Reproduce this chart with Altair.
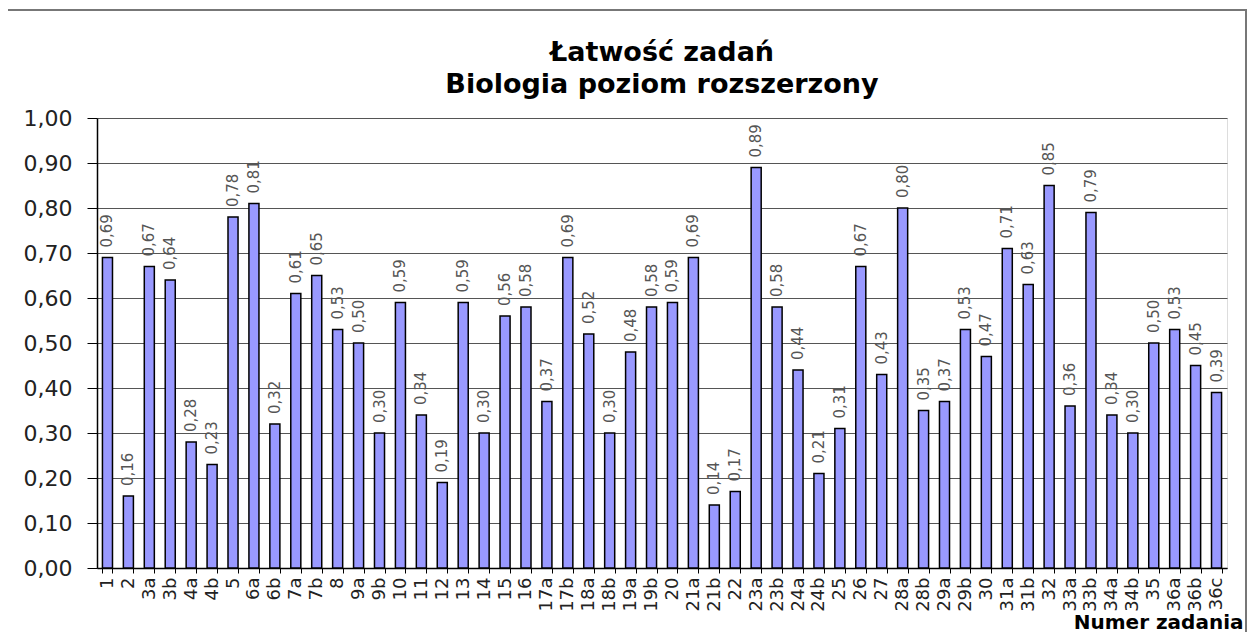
import altair as alt
import pandas as pd

tasks = ["1", "2", "3a", "3b", "4a", "4b", "5", "6a", "6b", "7a", "7b", "8", "9a", "9b",
         "10", "11", "12", "13", "14", "15", "16", "17a", "17b", "18a", "18b", "19a", "19b",
         "20", "21a", "21b", "22", "23a", "23b", "24a", "24b", "25", "26", "27", "28a", "28b",
         "29a", "29b", "30", "31a", "31b", "32", "33a", "33b", "34a", "34b", "35", "36a",
         "36b", "36c"]
values = [0.69, 0.16, 0.67, 0.64, 0.28, 0.23, 0.78, 0.81, 0.32, 0.61, 0.65, 0.53, 0.50, 0.30,
          0.59, 0.34, 0.19, 0.59, 0.30, 0.56, 0.58, 0.37, 0.69, 0.52, 0.30, 0.48, 0.58,
          0.59, 0.69, 0.14, 0.17, 0.89, 0.58, 0.44, 0.21, 0.31, 0.67, 0.43, 0.80, 0.35,
          0.37, 0.53, 0.47, 0.71, 0.63, 0.85, 0.36, 0.79, 0.34, 0.30, 0.50, 0.53,
          0.45, 0.39]
y_ticks = [0.0, 0.1, 0.2, 0.3, 0.4, 0.5, 0.6, 0.7, 0.8, 0.9, 1.0]

df = pd.DataFrame({"task": tasks, "value": values})
df["label"] = [f"{v:.2f}".replace(".", ",") for v in values]

FONT = "DejaVu Sans"

x = alt.X(
    "task:N", sort=tasks,
    scale=alt.Scale(paddingInner=0.52, paddingOuter=0.26),
    axis=alt.Axis(
        title="Numer zadania", titleFont=FONT, titleFontSize=20, titleFontWeight="bold",
        titleColor="black", titleX=1146, titleY=60, titleAlign="right",
        titleBaseline="alphabetic", titleAnchor="end",
        labelAngle=-90, labelFont=FONT, labelFontSize=18, labelColor="#222",
        labelPadding=4, labelOverlap=False,
        tickBand="extent", tickSize=5, tickColor="black",
        domainColor="black", domainWidth=1.5, grid=False,
    ),
)
y = alt.Y(
    "value:Q",
    scale=alt.Scale(domain=[0, 1], nice=False),
    axis=alt.Axis(
        title=None, values=y_ticks,
        labelExpr="replace(format(datum.value, '.2f'), '.', ',')",
        labelFont=FONT, labelFontSize=22, labelColor="#222", labelPadding=15,
        tickSize=10, tickColor="black", domainColor="black", domainWidth=1.5,
        grid=True, gridColor="#555", gridWidth=1.2,
    ),
)

bars = alt.Chart(df).mark_bar(color="#9999FF", stroke="black", strokeWidth=1.5).encode(x=x, y=y)

texts = alt.Chart(df).mark_text(
    angle=270, align="left", baseline="middle", dx=10,
    font=FONT, fontSize=15, color="#555",
).encode(x=alt.X("task:N", sort=tasks), y="value:Q", text="label:N")

border = alt.Chart(pd.DataFrame({"k": [0]})).mark_rect(
    fillOpacity=0, stroke="#777", strokeWidth=2
).encode(
    x=alt.value(-90), x2=alt.value(1149), y=alt.value(-108), y2=alt.value(540)
)

chart = alt.layer(bars, texts, border).properties(
    width=1130, height=450,
    title=alt.TitleParams(
        text=["Łatwość zadań", "Biologia poziom rozszerzony"],
        font=FONT, fontSize=27, fontWeight="bold", color="black",
        anchor="middle", lineHeight=32, baseline="bottom", offset=20, dy=137,
    ),
    autosize=alt.AutoSizeParams(type="none"),
    padding={"left": 89, "top": 110, "right": 21, "bottom": 64},
).configure_view(stroke="#888", strokeWidth=1.5).configure(background="white")

chart.save("out.html", embed_options={"renderer": "svg", "actions": False})
